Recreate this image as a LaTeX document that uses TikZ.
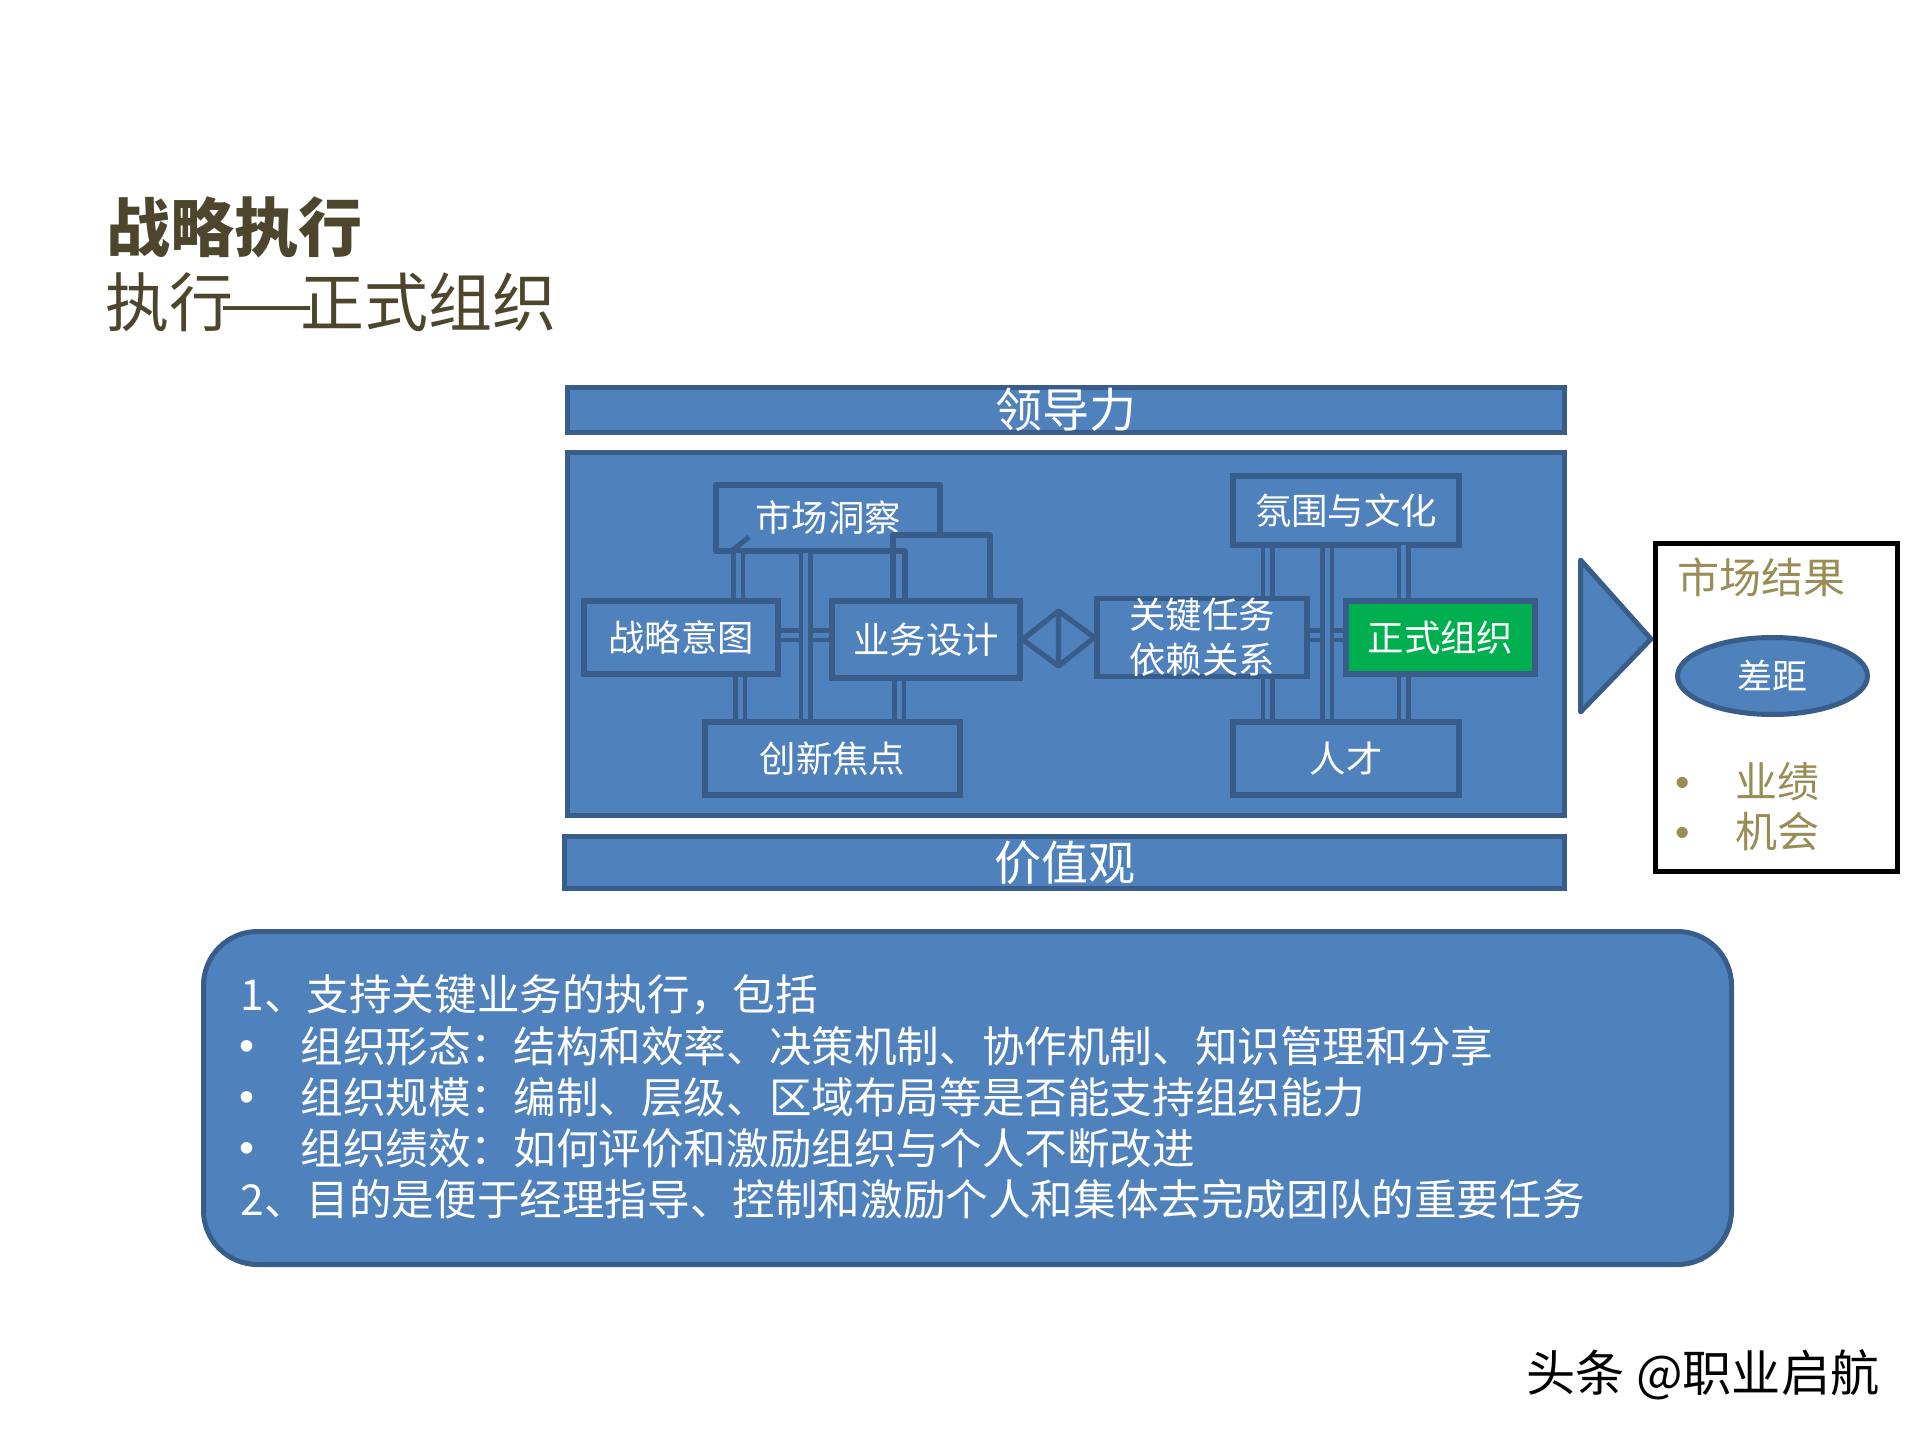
\documentclass[tikz,border=0pt]{standalone}
\usepackage{fontspec}
\setmainfont{Noto Sans CJK SC}
\newfontfamily\latinf{Liberation Sans}
\usetikzlibrary{shapes.geometric}
\definecolor{fillblue}{HTML}{4F81BD}
\definecolor{edgeblue}{HTML}{385D8A}
\definecolor{titlecol}{HTML}{4D452C}
\definecolor{goldcol}{HTML}{9A8C55}
\definecolor{okgreen}{HTML}{00B050}
\newcommand\fs[1]{\fontsize{#1}{#1}\selectfont}
\tikzset{
  line/.style={draw=edgeblue,line width=2.5pt,line join=round},
  blk/.style n args={2}{draw=edgeblue,fill=fillblue,line width=2.5pt,inner sep=0pt,
     minimum width=#1*0.5pt,minimum height=#2*0.5pt},
  inbox/.style n args={2}{draw=edgeblue,line width=2.6pt,inner sep=0pt,
     minimum width=#1*0.5pt,minimum height=#2*0.5pt},
  bar/.style={draw=fillblue,line width=2.5pt,
     preaction={draw=edgeblue,line width=7pt,shorten <=-1.5pt,shorten >=-1.5pt}},
  wtext/.style={text=white,inner sep=0pt,font=\fs{18.2},execute at begin node=\vphantom{国}},
  line txt/.style={text=white,inner sep=0pt,anchor=west,font=\fs{21.3},execute at begin node=\vphantom{国}},
  big txt/.style={text=white,inner sep=0pt,font=\fs{23.5},execute at begin node=\vphantom{国}},
  gold txt/.style={text=goldcol,inner sep=0pt,font=\fs{21},execute at begin node=\vphantom{国}},
  dotw/.style={text=white,inner sep=0pt,font=\latinf\fs{21.35}},
  dotg/.style={text=goldcol,inner sep=0pt,font=\latinf\fs{20.5}},
}
\begin{document}
\begin{tikzpicture}[x=0.5pt,y=-0.5pt]
\useasboundingbox (0,0) rectangle (1920,1440);
% title
\node[text=titlecol,inner sep=0pt,anchor=west,font=\fs{32}\bfseries] (t1) at (106,227) {\vphantom{国}战略执行};
\node[text=titlecol,inner sep=0pt,anchor=west,font=\fs{32}] (t2) at (105,302) {\vphantom{国}执行\makebox[1.05em]{\scalebox{1.7}[1]{—}}正式组织};
% top, main and bottom bars
\node[blk={997}{45},big txt] (lead) at (1066,410) {领导力};
\node[blk={997}{363}] (main) at (1066,634) {};
\node[blk={1000}{52},big txt] (vals) at (1064.5,862.5) {价值观};
% left cluster
\node[wtext] (mk) at (828,518) {市场洞察};
\node[inbox={194}{73},wtext] (strat) at (681,637.5) {战略意图};
\node[inbox={188}{77},wtext] (des) at (926,639.5) {业务设计};
\node[inbox={255}{73},wtext] (foc) at (832.5,758.5) {创新焦点};
\draw[draw=edgeblue,line width=2.6pt,line join=round]
  (905,598) -- (905,551) -- (716,551) -- (716,485) -- (940,485) -- (940,535);
\draw[draw=edgeblue,line width=2.6pt,line join=round]
  (893,598) -- (893,535) -- (990,535) -- (990,598);
\draw[draw=edgeblue,line width=2.6pt] (733,550) -- (749,537);
\draw[bar] ([yshift=1.25pt]strat.east) -- ([yshift=2.25pt]des.west);
\draw[bar] ([xshift=-45pt]mk.center |- 0,553) -- ([xshift=28.5pt]strat.north);
\draw[bar] ([xshift=-11.25pt]mk.center |- 0,553) -- ([xshift=-13.5pt]foc.north);
\draw[bar] ([xshift=29.5pt]strat.south) -- ([xshift=-46.25pt]foc.north);
\draw[bar] ([xshift=-13.5pt]des.south) -- ([xshift=33.25pt]foc.north);
% right cluster
\node[inbox={210}{73},text=white,inner sep=0pt,font=\fontsize{18.2}{22.5}\selectfont,align=center] (key) at (1202,637.5) {关键任务\\依赖关系};
\node[inbox={189}{73},wtext,fill=okgreen] (org) at (1440.5,637.5) {正式组织};
\node[inbox={226}{69},wtext] (cul) at (1346,510.5) {氛围与文化};
\node[inbox={226}{73},wtext] (tal) at (1346,758.5) {人才};
\draw[bar] ([yshift=1.25pt]key.east) -- ([yshift=1.25pt]org.west);
\draw[bar] ([xshift=-39.25pt]cul.south) -- ([xshift=32.75pt]key.north);
\draw[bar] ([xshift=32.75pt]key.south) -- ([xshift=-39.25pt]tal.north);
\draw[bar] ([xshift=-9.5pt]cul.south) -- ([xshift=-9.5pt]tal.north);
\draw[bar] ([xshift=28.75pt,yshift=1.5pt]cul.south) -- ([xshift=-18.5pt]org.north);
\draw[bar] ([xshift=-18.5pt]org.south) -- ([xshift=28.75pt]tal.north);
% diamond link
\coordinate (dtop) at (1058.5,611);
\coordinate (dbot) at (1058.5,666);
\draw[draw=edgeblue,line width=2.6pt,line join=round] (des.east) -- (dtop) -- (key.west) -- (dbot) -- cycle (dtop) -- (dbot);
% result arrow and box
\draw[line,fill=fillblue] (1580.5,560) -- (1651,639) -- (1580.5,712) -- cycle;
\node[draw=black,fill=white,line width=2.5pt,inner sep=0pt,minimum width=120.75pt,minimum height=163.75pt] (res) at (1776.25,707.25) {};
\node[gold txt] (r1) at (1761,577) {市场结果};
\node[ellipse,draw=edgeblue,fill=fillblue,line width=2.5pt,inner sep=0pt,minimum width=95pt,minimum height=38.5pt,text=white,font=\fs{17.5}] (gap) at (1772.5,676) {\vphantom{国}差距};
\node[dotg] (b1) at (1683,787) {•};
\node[dotg] (b2) at (1683,837) {•};
\node[gold txt] (r2) at (1777.5,782) {业绩};
\node[gold txt] (r3) at (1777.5,832) {机会};
% bottom panel
\node[blk={1528}{333},rounded corners=27pt] (panel) at (967.5,1098) {};
\node[line txt] (l1) at (240,995) {1、支持关键业务的执行，包括};
\node[dotw] (d2) at (247,1051) {•};
\node[line txt] (l2) at (300,1046) {组织形态：结构和效率、决策机制、协作机制、知识管理和分享};
\node[dotw] (d3) at (247,1102) {•};
\node[line txt] (l3) at (300,1097) {组织规模：编制、层级、区域布局等是否能支持组织能力};
\node[dotw] (d4) at (247,1153) {•};
\node[line txt] (l4) at (300,1148) {组织绩效：如何评价和激励组织与个人不断改进};
\node[line txt] (l5) at (240,1199) {2、目的是便于经理指导、控制和激励个人和集体去完成团队的重要任务};
% watermark
\node[text=black,inner sep=0pt,font=\fs{24.6}] (wm) at (1703,1375) {\vphantom{国}头条 @职业启航};
\end{tikzpicture}
\end{document}
